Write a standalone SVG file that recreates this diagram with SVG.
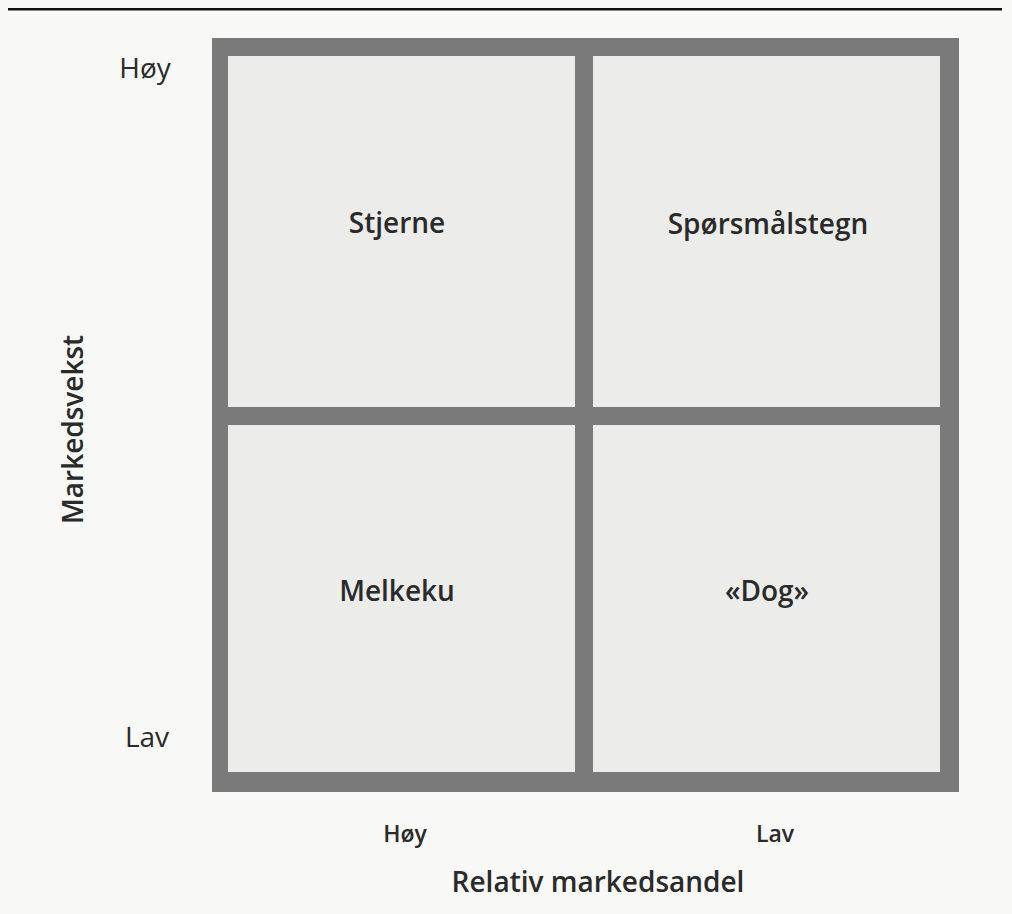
<svg xmlns="http://www.w3.org/2000/svg" width="1012" height="914" viewBox="0 0 1012 914">
<style>
.t{font-family:"Open Sans","Liberation Sans",sans-serif;fill:#2a2a2a;text-anchor:middle}
.b{font-weight:600}
.cell{fill:#ececeb}
</style>
<rect x="0" y="0" width="1012" height="914" fill="#f8f8f6"/>
<rect x="8" y="8" width="994" height="2.5" fill="#111"/>
<g id="frame">
<rect x="212" y="38" width="747" height="754" fill="#7a7a7a"/>
</g>
<g id="stjerne">
<rect class="cell" x="228" y="56" width="347" height="351"/>
<text class="t b" x="397" y="233" font-size="28">Stjerne</text>
</g>
<g id="sporsmalstegn">
<rect class="cell" x="593" y="56" width="347" height="351"/>
<text class="t b" x="768" y="234" font-size="28">Spørsmålstegn</text>
</g>
<g id="melkeku">
<rect class="cell" x="228" y="425" width="347" height="347"/>
<text class="t b" x="397" y="601" font-size="28">Melkeku</text>
</g>
<g id="dog">
<rect class="cell" x="593" y="425" width="347" height="347"/>
<text class="t b" x="767" y="601" font-size="28">«Dog»</text>
</g>
<g id="axes">
<text class="t" x="145" y="78" font-size="28">Høy</text>
<text class="t" x="147" y="747" font-size="28">Lav</text>
<text class="t b" x="0" y="0" font-size="28" text-anchor="start" style="text-anchor:start" transform="translate(83,524) rotate(-90)">Markedsvekst</text>
<text class="t b" x="405" y="842" font-size="23">Høy</text>
<text class="t b" x="775" y="842" font-size="23">Lav</text>
<text class="t b" x="598" y="892" font-size="28">Relativ markedsandel</text>
</g>
</svg>
